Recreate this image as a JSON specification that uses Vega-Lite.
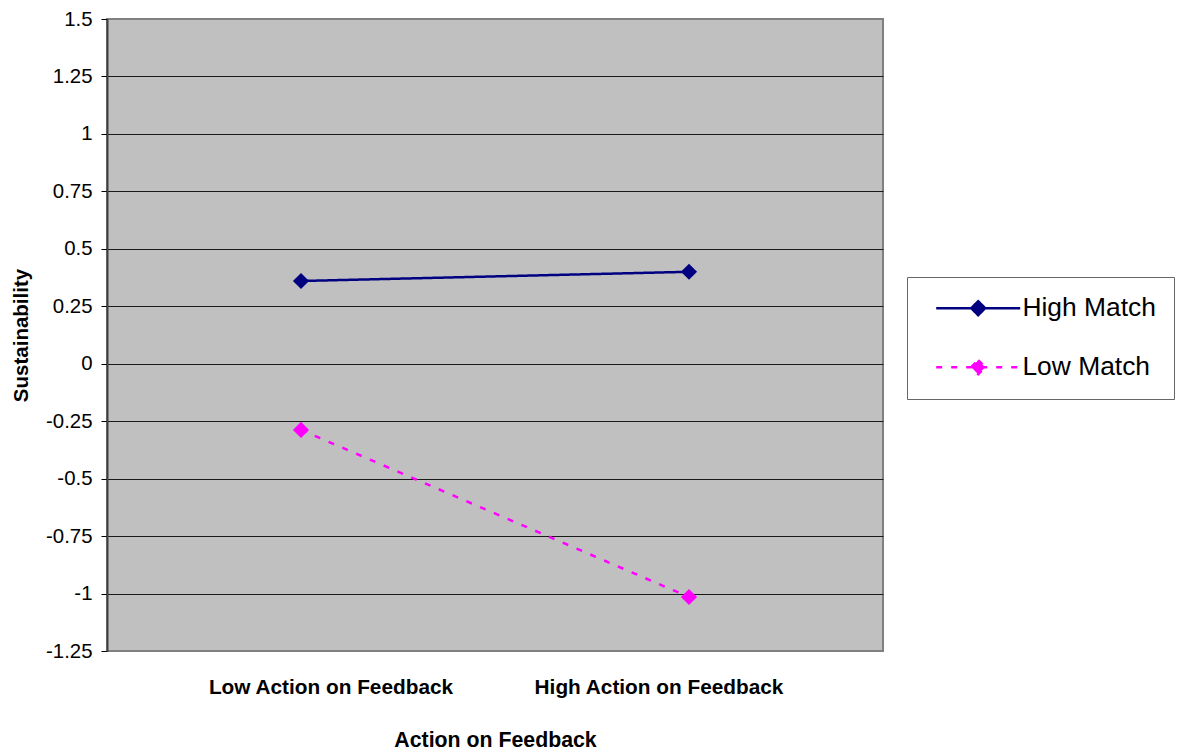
{
  "$schema": "https://vega.github.io/schema/vega-lite/v6.json",
  "width": 776,
  "height": 632,
  "autosize": {"type": "none"},
  "padding": {"left": 107, "top": 19, "right": 300, "bottom": 104},
  "background": "white",
  "data": {
    "values": [
      {"action": "Low Action on Feedback", "match": "High Match", "value": 0.36},
      {"action": "High Action on Feedback", "match": "High Match", "value": 0.40},
      {"action": "Low Action on Feedback", "match": "Low Match", "value": -0.288},
      {"action": "High Action on Feedback", "match": "Low Match", "value": -1.015}
    ]
  },
  "encoding": {
    "x": {
      "field": "action",
      "type": "nominal",
      "sort": ["Low Action on Feedback", "High Action on Feedback"],
      "axis": {
        "title": "Action on Feedback",
        "labelAngle": 0,
        "labelLimit": 0,
        "ticks": false,
        "domain": false,
        "labelPadding": 26,
        "titlePadding": 33,
        "labelFontWeight": "bold",
        "labelFontSize": 20.8,
        "titleFontSize": 21.3,
        "labelOffset": {
          "condition": {"test": "datum.value === 'Low Action on Feedback'", "value": 29.5},
          "value": -30.5
        }
      }
    },
    "y": {
      "field": "value",
      "type": "quantitative",
      "scale": {"domain": [-1.25, 1.5], "nice": false, "zero": false},
      "axis": {
        "title": "Sustainability",
        "values": [-1.25, -1, -0.75, -0.5, -0.25, 0, 0.25, 0.5, 0.75, 1, 1.25, 1.5],
        "labelExpr": "'' + datum.value",
        "labelFontSize": 20.4,
        "titleFontSize": 20.5,
        "tickSize": 6,
        "tickColor": "black",
        "labelPadding": 9,
        "titlePadding": 14,
        "domainColor": "#404040",
        "domainWidth": 2,
        "grid": true,
        "gridColor": {
          "condition": {"test": "datum.value === 1.5 || datum.value === -1.25", "value": "#808080"},
          "value": "#1a1a1a"
        }
      }
    },
    "color": {
      "field": "match",
      "type": "nominal",
      "scale": {"domain": ["High Match", "Low Match"], "range": ["#000080", "#FF00FF"]},
      "legend": {
        "title": null,
        "orient": "none",
        "legendX": 800,
        "legendY": 258,
        "padding": 18,
        "strokeColor": "#666666",
        "fillColor": "white",
        "symbolType": "M-6,0L6,0M0,-1L1,0L0,1L-1,0Z",
        "symbolSize": 196,
        "symbolStrokeWidth": 2.5,
        "symbolOffset": 40,
        "labelOffset": 31,
        "labelLimit": 0,
        "labelFontSize": 26.4,
        "labelColor": "black",
        "rowPadding": 32,
        "encode": {
          "symbols": {
            "update": {
              "fill": {"scale": "color", "field": "value"},
              "stroke": {"scale": "color", "field": "value"},
              "strokeDash": {"signal": "datum.value === 'Low Match' ? [6, 9] : [1, 0]"},
              "opacity": {"value": 1}
            }
          }
        }
      }
    }
  },
  "layer": [
    {
      "mark": {"type": "line", "strokeWidth": 2.5},
      "encoding": {
        "strokeDash": {
          "field": "match",
          "type": "nominal",
          "scale": {"domain": ["High Match", "Low Match"], "range": [[1, 0], [6, 9]]},
          "legend": null
        }
      }
    },
    {
      "mark": {"type": "point", "shape": "diamond", "filled": true, "size": 260, "opacity": 1}
    }
  ],
  "config": {
    "font": "Liberation Sans",
    "view": {"fill": "#C0C0C0", "stroke": "#808080", "strokeWidth": 2},
    "axis": {
      "labelFont": "Liberation Sans",
      "titleFont": "Liberation Sans",
      "labelFontSize": 20,
      "titleFontSize": 20,
      "labelColor": "black",
      "titleColor": "black",
      "titleFontWeight": "bold"
    },
    "legend": {"labelFont": "Liberation Sans"}
  }
}
